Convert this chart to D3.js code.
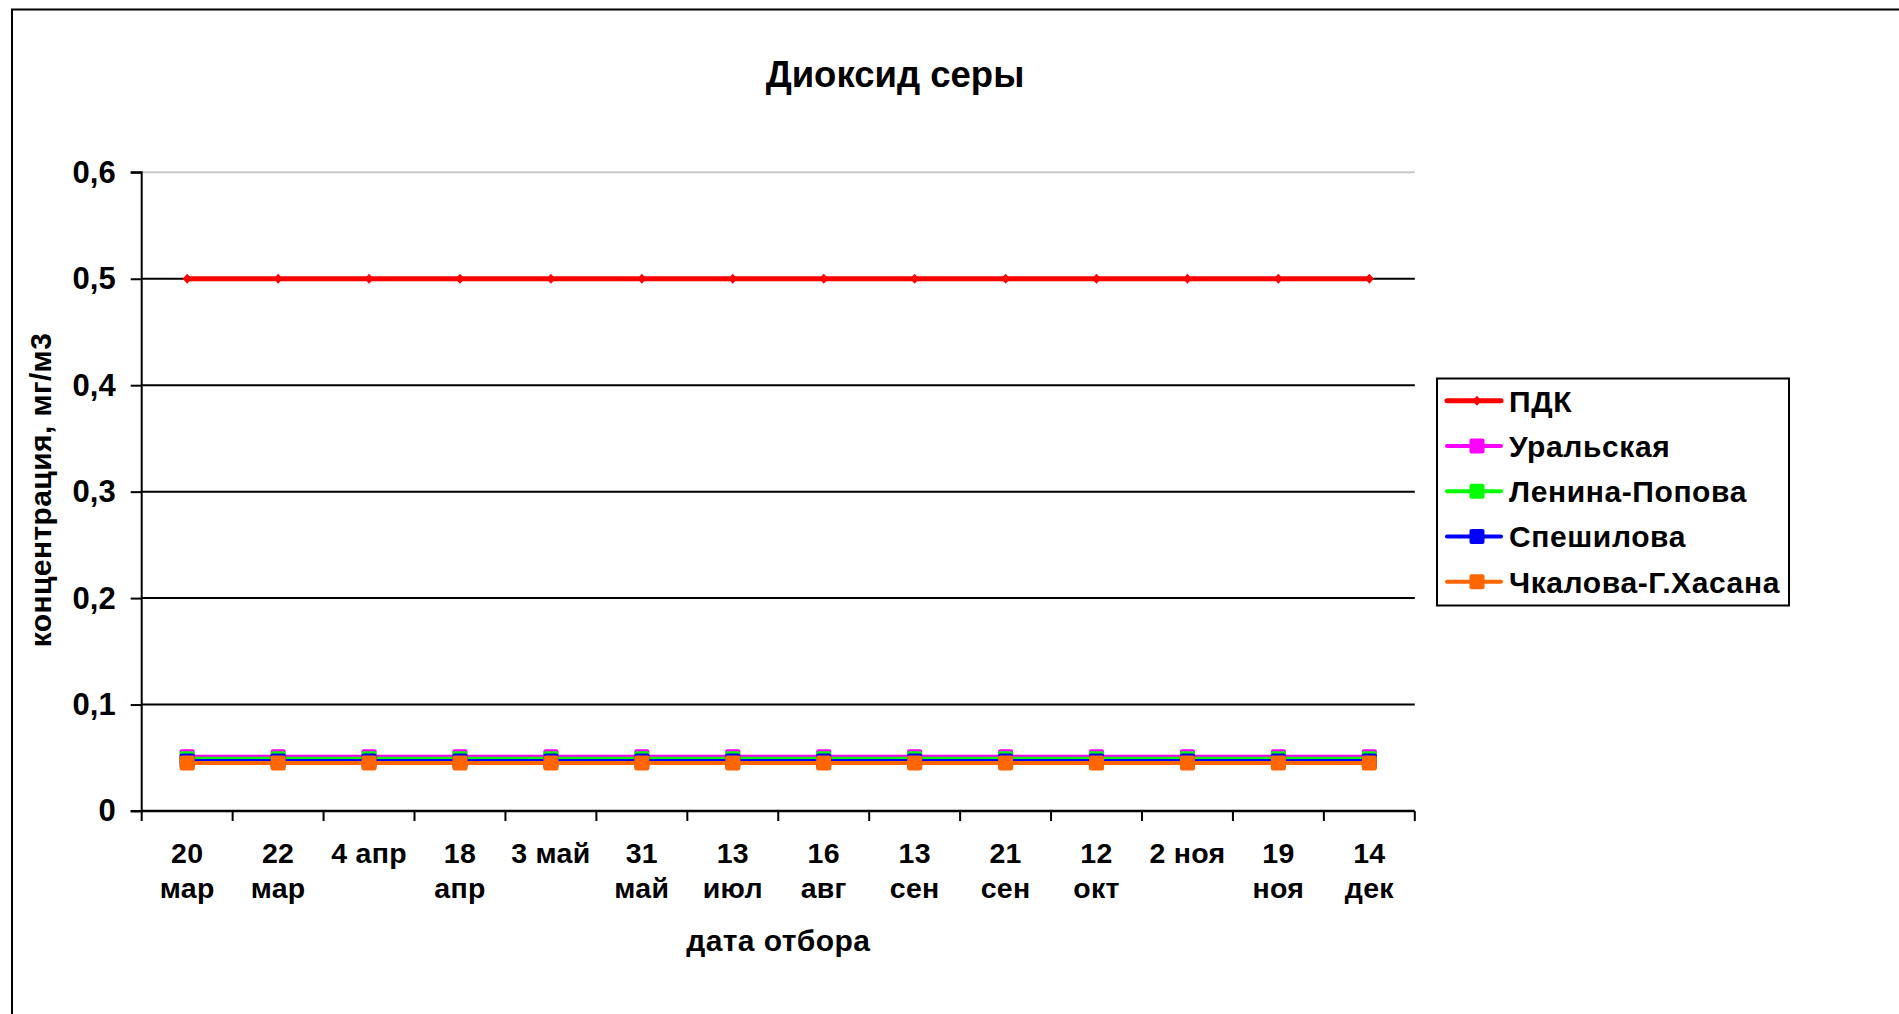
<!DOCTYPE html>
<html>
<head>
<meta charset="utf-8">
<script src="https://cdn.jsdelivr.net/npm/d3@7"></script>
<style>
  html, body { margin: 0; padding: 0; background: #fff; }
  svg { display: block; }
  text { font-family: "Liberation Sans", Arial, sans-serif; font-weight: bold; fill: #000; }
</style>
</head>
<body>
<svg id="chart" width="1899" height="1014"></svg>
<script>
// ---- data ----
const categories = ["20 мар","22 мар","4 апр","18 апр","3 май","31 май","13 июл","16 авг","13 сен","21 сен","12 окт","2 ноя","19 ноя","14 дек"];
const seriesNames = ["ПДК","Уральская","Ленина-Попова","Спешилова","Чкалова-Г.Хасана"];
const seriesColors = ["#ff0000","#ff00ff","#00ff00","#0000ff","#ff6600"];
const pdkValues       = [0.5,0.5,0.5,0.5,0.5,0.5,0.5,0.5,0.5,0.5,0.5,0.5,0.5,0.5];
const uralskayaValues = [0.051,0.051,0.051,0.051,0.051,0.051,0.051,0.051,0.051,0.051,0.051,0.051,0.051,0.051];
const leninaValues    = [0.049,0.049,0.049,0.049,0.049,0.049,0.049,0.049,0.049,0.049,0.049,0.049,0.049,0.049];
const speshilovaValues= [0.047,0.047,0.047,0.047,0.047,0.047,0.047,0.047,0.047,0.047,0.047,0.047,0.047,0.047];
const chkalovaValues  = [0.045,0.045,0.045,0.045,0.045,0.045,0.045,0.045,0.045,0.045,0.045,0.045,0.045,0.045];
const yTicks = [0,0.1,0.2,0.3,0.4,0.5,0.6];
const yTickLabels = ["0","0,1","0,2","0,3","0,4","0,5","0,6"];
const titleText = "Диоксид серы";
const xTitle = "дата отбора";
const yTitle = "концентрация, мг/м3";

const seriesValues = [pdkValues, uralskayaValues, leninaValues, speshilovaValues, chkalovaValues];

// ---- layout ----
const svg = d3.select("#chart");
const plotL = 141.7, plotR = 1414.8, plotT = 172.3, plotB = 811;
const x = d3.scaleBand().domain(categories).range([plotL, plotR]).paddingInner(0).paddingOuter(0);
const y = d3.scaleLinear().domain([0, 0.6]).range([plotB, plotT]);

svg.append("rect").attr("width", 1899).attr("height", 1014).attr("fill", "#fff");

// outer chart frame (extends beyond the picture right and bottom)
svg.append("path")
  .attr("d", "M12,1014 L12,9.5 L1899,9.5")
  .attr("fill", "none").attr("stroke", "#000").attr("stroke-width", 2);

// title
svg.append("text").attr("x", 895).attr("y", 87).attr("text-anchor", "middle")
  .style("font-size", "36.5px").text(titleText);

// gridlines
svg.append("g").selectAll("line").data(yTicks.filter(d => d > 0)).join("line")
  .attr("x1", plotL).attr("x2", plotR)
  .attr("y1", d => y(d)).attr("y2", d => y(d))
  .attr("stroke", d => d === 0.6 ? "#c8c8c8" : "#000")
  .attr("stroke-width", 2);

// y axis
const yAxis = d3.axisLeft(y).tickValues(yTicks).tickSize(11).tickPadding(15)
  .tickFormat((d, i) => yTickLabels[i]);
const gy = svg.append("g").attr("transform", `translate(${plotL},0)`).call(yAxis);
gy.select(".domain").attr("stroke", "#000").attr("stroke-width", 2).attr("d", `M-11,${plotT}H0V${plotB}H-11`);
gy.selectAll(".tick line").attr("stroke", "#000").attr("stroke-width", 2);
gy.selectAll(".tick text").style("font-size", "31px").attr("font-family", null).attr("font-weight", null);

// x axis line + ticks at category boundaries
svg.append("line").attr("x1", plotL).attr("x2", plotR).attr("y1", plotB).attr("y2", plotB)
  .attr("stroke", "#000").attr("stroke-width", 2.5);
const bounds = d3.range(categories.length + 1).map(i => plotL + i * x.step());
svg.append("g").selectAll("line").data(bounds).join("line")
  .attr("x1", d => d).attr("x2", d => d).attr("y1", plotB).attr("y2", plotB + 10)
  .attr("stroke", "#000").attr("stroke-width", 2);

// x labels (wrapped like Excel when too wide)
const xl = svg.append("g");
categories.forEach(c => {
  const cx = x(c) + x.bandwidth() / 2;
  const t = xl.append("text").attr("x", cx).attr("y", 862.5).attr("text-anchor", "middle")
    .style("font-size", "28.5px").style("letter-spacing", "0.3px").text(c);
  if (t.node().getComputedTextLength() > 85) {
    const parts = c.split(" ");
    t.text(parts[0]);
    xl.append("text").attr("x", cx).attr("y", 898).attr("text-anchor", "middle")
      .style("font-size", "28.5px").style("letter-spacing", "0.3px").text(parts.slice(1).join(" "));
  }
});

// axis titles
svg.append("text").attr("x", (plotL + plotR) / 2).attr("y", 951).attr("text-anchor", "middle")
  .style("font-size", "30px").style("letter-spacing", "0.4px").text(xTitle);
svg.append("text").attr("transform", "translate(51,490) rotate(-90)").attr("text-anchor", "middle")
  .style("font-size", "30px").style("letter-spacing", "0.4px").text(yTitle);

// series
const line = d3.line().x((d, i) => x(categories[i]) + x.bandwidth() / 2).y(d => y(d));
const diamond = "M0,-5L4.5,0L0,5L-4.5,0Z";
const sq = 15;
seriesValues.forEach((vals, si) => {
  const col = seriesColors[si];
  const g = svg.append("g");
  g.append("path").datum(vals).attr("d", line).attr("fill", "none")
    .attr("stroke", col).attr("stroke-width", si === 0 ? 5 : 4);
  if (si === 0) {
    g.selectAll("path.m").data(vals).join("path").attr("class", "m")
      .attr("transform", (d, i) => `translate(${x(categories[i]) + x.bandwidth() / 2},${y(d)})`)
      .attr("d", diamond).attr("fill", col);
  } else {
    g.selectAll("rect").data(vals).join("rect")
      .attr("x", (d, i) => x(categories[i]) + x.bandwidth() / 2 - sq / 2)
      .attr("y", d => y(d) - sq / 2)
      .attr("width", sq).attr("height", sq).attr("rx", 2)
      .attr("fill", col);
  }
});

// legend
const lg = svg.append("g");
lg.append("rect").attr("x", 1437).attr("y", 378.5).attr("width", 352).attr("height", 227)
  .attr("fill", "#fff").attr("stroke", "#000").attr("stroke-width", 2);
seriesNames.forEach((n, i) => {
  const cy = 400.7 + i * 45.25;
  const col = seriesColors[i];
  lg.append("line").attr("x1", 1447).attr("x2", 1501).attr("y1", cy).attr("y2", cy)
    .attr("stroke", col).attr("stroke-width", i === 0 ? 5 : 4).attr("stroke-linecap", "round");
  if (i === 0) {
    lg.append("path").attr("transform", `translate(1477,${cy})`).attr("d", diamond).attr("fill", col);
  } else {
    lg.append("rect").attr("x", 1477 - sq / 2).attr("y", cy - sq / 2).attr("width", sq).attr("height", sq)
      .attr("rx", 2).attr("fill", col);
  }
  lg.append("text").attr("x", 1509).attr("y", cy).attr("dy", "0.36em")
    .style("font-size", "30px").style("letter-spacing", "0.6px").text(n);
});
</script>
</body>
</html>
